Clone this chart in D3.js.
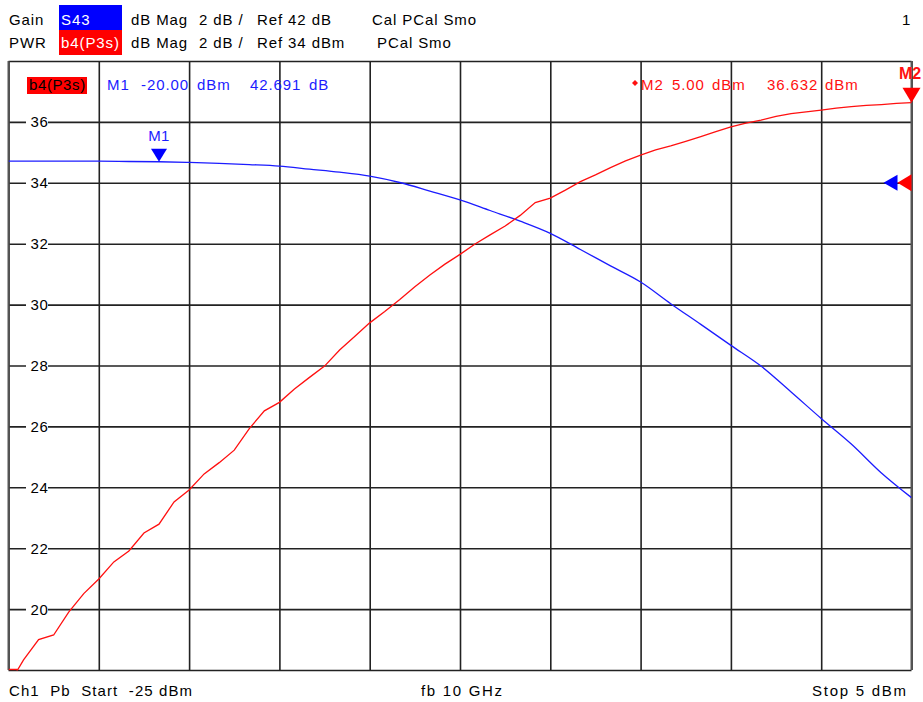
<!DOCTYPE html>
<html>
<head>
<meta charset="utf-8">
<script src="https://cdn.jsdelivr.net/npm/d3@7"></script>
<style>
  html, body { margin: 0; padding: 0; background: #fff; }
  svg { display: block; }
  text { font-family: "Liberation Sans", Arial, sans-serif; font-size: 15px; letter-spacing: 0.9px; }
</style>
</head>
<body>
<svg id="chart" width="923" height="702"></svg>
<script>
// Power sweep (dBm) and the two measured traces
const gainSweep = [-25, -24, -23, -22, -21, -20, -19, -18, -17, -16, -15, -14, -13, -12, -11, -10,
                   -9, -8, -7, -6, -5, -4, -3, -2, -1, 0, 1, 2, 3, 4, 5];
const gainValues = [42.71, 42.71, 42.71, 42.71, 42.70, 42.691, 42.67, 42.64, 42.60, 42.55, 42.45, 42.35,
                    42.22, 42.01, 41.73, 41.44, 41.09, 40.74, 40.34, 39.81, 39.27, 38.74, 38.03, 37.35,
                    36.66, 35.98, 35.13, 34.26, 33.42, 32.47, 31.66];

const pwrSweep = [-25, -24.5, -24, -23.5, -23, -22.5, -22, -21.5, -21, -20.5, -20, -19.5, -19, -18.5,
                  -18, -17.5, -17, -16.5, -16, -15.5, -15, -14.5, -14, -13.5, -13, -12.5, -12, -11.5,
                  -11, -10.5, -10, -9.5, -9, -8.5, -8, -7.5, -7, -6.5, -6, -5.5, -5, -4.5, -4, -3.5,
                  -3, -2.5, -2, -1.5, -1, -0.5, 0, 0.5, 1, 1.5, 2, 2.5, 3, 3.5, 4, 4.5, 5];
const pwrValues = [17.5, 18.33, 19.00, 19.15, 19.90, 20.51, 20.99, 21.55, 21.91, 22.50, 22.79, 23.52,
                   23.91, 24.44, 24.81, 25.22, 25.93, 26.51, 26.79, 27.23, 27.61, 27.98, 28.51, 28.95,
                   29.40, 29.77, 30.17, 30.59, 30.97, 31.33, 31.65, 31.99, 32.29, 32.58, 32.93, 33.35,
                   33.50, 33.76, 34.04, 34.26, 34.50, 34.72, 34.91, 35.08, 35.21, 35.36, 35.52, 35.68,
                   35.84, 35.96, 36.06, 36.18, 36.27, 36.33, 36.39, 36.45, 36.50, 36.54, 36.57, 36.61, 36.632];

// Grid: 10 divisions each way
const xTicks = [-25, -22, -19, -16, -13, -10, -7, -4, -1, 2, 5];
const yTicks = [18, 20, 22, 24, 26, 28, 30, 32, 34, 36, 38];
const yLabels = [20, 22, 24, 26, 28, 30, 32, 34, 36];

// Markers
const m1 = { x: -20, y: 42.691 };
const m2 = { x: 5, y: 36.632 };

// Scales: PWR trace ref 34 dBm, Gain trace ref 42 dB, both at 2 dB/div on the same ref line
const plot = { left: 8.5, right: 911.5, top: 61, bottom: 670 };
const x = d3.scaleLinear().domain([-25, 5]).range([plot.left, plot.right]);
const yPwr = d3.scaleLinear().domain([18, 38]).range([plot.bottom, plot.top]);
const yGain = d3.scaleLinear().domain([26, 46]).range([plot.bottom, plot.top]);

const svg = d3.select("#chart");
const BLUE = "#1c1cff", RED = "#ff1010";

// ---- Header lines ----
const header = svg.append("g");
header.append("rect").attr("x", 59).attr("y", 5).attr("width", 63).attr("height", 25).attr("fill", "#0000ff");
header.append("rect").attr("x", 59).attr("y", 30).attr("width", 63).attr("height", 25).attr("fill", "#ff0000");
const headerRows = [
  { y: 25, parts: [["Gain", 9, "#000"], ["S43", 61, "#fff"], ["dB Mag", 131, "#000"], ["2 dB /", 199, "#000"],
                   ["Ref 42 dB", 257, "#000"], ["Cal PCal Smo", 372, "#000"], ["1", 902, "#000"]] },
  { y: 48, parts: [["PWR", 9, "#000"], ["b4(P3s)", 61, "#fff"], ["dB Mag", 131, "#000"], ["2 dB /", 199, "#000"],
                   ["Ref 34 dBm", 257, "#000"], ["PCal Smo", 377, "#000"]] }
];
headerRows.forEach(row => {
  row.parts.forEach(([t, px, c]) => {
    header.append("text").attr("x", px).attr("y", row.y).attr("fill", c).text(t);
  });
});

// ---- Grid ----
const grid = svg.append("g");
grid.append("g")
  .attr("transform", `translate(0,${plot.bottom})`)
  .call(d3.axisBottom(x).tickValues(xTicks).tickSize(-(plot.bottom - plot.top)).tickFormat(""))
  .call(g => g.select(".domain").remove())
  .call(g => g.selectAll("line").attr("stroke", "#222").attr("stroke-width", 1.6));
grid.append("g")
  .attr("transform", `translate(${plot.left},0)`)
  .call(d3.axisLeft(yPwr).tickValues(yTicks).tickSize(-(plot.right - plot.left)).tickFormat(""))
  .call(g => g.select(".domain").remove())
  .call(g => g.selectAll("line").attr("stroke", "#222").attr("stroke-width", 1.6));
// frame sides
grid.append("line").attr("x1", plot.left).attr("x2", plot.left).attr("y1", plot.top).attr("y2", plot.bottom)
  .attr("stroke", "#555").attr("stroke-width", 2);
grid.append("line").attr("x1", plot.right).attr("x2", plot.right).attr("y1", plot.top).attr("y2", plot.bottom)
  .attr("stroke", "#555").attr("stroke-width", 2);

// y labels sitting on the grid lines
const yl = svg.append("g");
yLabels.forEach(v => {
  yl.append("rect").attr("x", 26).attr("y", yPwr(v) - 8).attr("width", 22).attr("height", 16).attr("fill", "#fff");
  yl.append("text").attr("x", 39.5).attr("y", yPwr(v) + 5.5).attr("text-anchor", "middle")
    .attr("fill", "#000").style("letter-spacing", "0.6px").text(v);
});

// ---- Traces ----
svg.append("clipPath").attr("id", "plotClip").append("rect")
  .attr("x", plot.left).attr("y", plot.top).attr("width", plot.right - plot.left).attr("height", plot.bottom - plot.top + 0.5);

const gainData = gainSweep.map((p, i) => [p, gainValues[i]]);
const pwrData = pwrSweep.map((p, i) => [p, pwrValues[i]]);
const traces = svg.append("g").attr("clip-path", "url(#plotClip)");
traces.append("path").datum(gainData)
  .attr("d", d3.line().x(d => x(d[0])).y(d => yGain(d[1])).curve(d3.curveMonotoneX))
  .attr("fill", "none").attr("stroke", BLUE).attr("stroke-width", 1.3);
// values under the bottom line are held on the frame edge
const pwrPath = d3.line().x(d => x(d[0])).y(d => yPwr(d[1]));
traces.append("path").datum(pwrData)
  .attr("d", pwrPath)
  .attr("fill", "none").attr("stroke", RED).attr("stroke-width", 1.3);
traces.append("line")
  .attr("x1", x(pwrSweep[0])).attr("x2", x(pwrSweep[0]) + (x(pwrSweep[1]) - x(pwrSweep[0])) *
        (yPwr(18) - yPwr(pwrValues[0])) / (yPwr(pwrValues[1]) - yPwr(pwrValues[0])))
  .attr("y1", plot.bottom - 0.5).attr("y2", plot.bottom - 0.5)
  .attr("stroke", RED).attr("stroke-width", 1.5);

// ---- Reference level arrows (right edge) ----
const refY = yPwr(34);
svg.append("path").attr("d", `M${plot.right - 28},${refY} l14,-8 l0,16 z`).attr("fill", "#0000ff");
svg.append("path").attr("d", `M${plot.right - 14},${refY} l14,-8.5 l0,17 z`).attr("fill", "#ff0000");

// ---- Marker M1 on gain trace ----
const m1x = x(m1.x), m1y = yGain(m1.y);
svg.append("path").attr("d", `M${m1x},${m1y} l-8,-13 l16,0 z`).attr("fill", "#0000ff");
svg.append("text").attr("x", m1x).attr("y", m1y - 21).attr("text-anchor", "middle").attr("fill", BLUE)
  .style("letter-spacing", "0.3px").text("M1");

// ---- Marker M2 on power trace ----
const m2x = x(m2.x), m2y = yPwr(m2.y);
svg.append("path").attr("d", `M${m2x},${m2y} l-9,-15 l18,0 z`).attr("fill", "#ff0000");
svg.append("text").attr("x", 899).attr("y", 79).attr("fill", RED).attr("font-weight", "bold")
  .style("letter-spacing", "0px").style("font-size", "16px").text("M2");

// ---- Marker readouts ----
svg.append("rect").attr("x", 27).attr("y", 77).attr("width", 60).attr("height", 17).attr("fill", "#ff0000");
svg.append("text").attr("x", 29).attr("y", 90).attr("fill", "#000").style("letter-spacing", "0.6px").text("b4(P3s)");
[["M1", 107], [`${m1.x.toFixed(2)}`, 141], ["dBm", 197], [`${m1.y.toFixed(3)}`, 250], ["dB", 309]]
  .forEach(([t, px]) => svg.append("text").attr("x", px).attr("y", 90).attr("fill", BLUE).text(t));
svg.append("path").attr("d", "M635,80 l3,3 l-3,3 l-3,-3 z").attr("fill", RED);
[["M2", 641], [`${m2.x.toFixed(2)}`, 672], ["dBm", 712], [`${m2.y.toFixed(3)}`, 767], ["dBm", 825]]
  .forEach(([t, px]) => svg.append("text").attr("x", px).attr("y", 90).attr("fill", RED).text(t));

// ---- Footer ----
[["Ch1  Pb  Start  -25 dBm", 9, 183], ["fb 10 GHz", 421, 81], ["Stop 5 dBm", 812, 94]]
  .forEach(([t, px, len]) => svg.append("text").attr("x", px).attr("y", 696).attr("fill", "#000")
    .attr("xml:space", "preserve").style("white-space", "pre").style("letter-spacing", "0px")
    .attr("textLength", len).attr("lengthAdjust", "spacing").text(t));
</script>
</body>
</html>
